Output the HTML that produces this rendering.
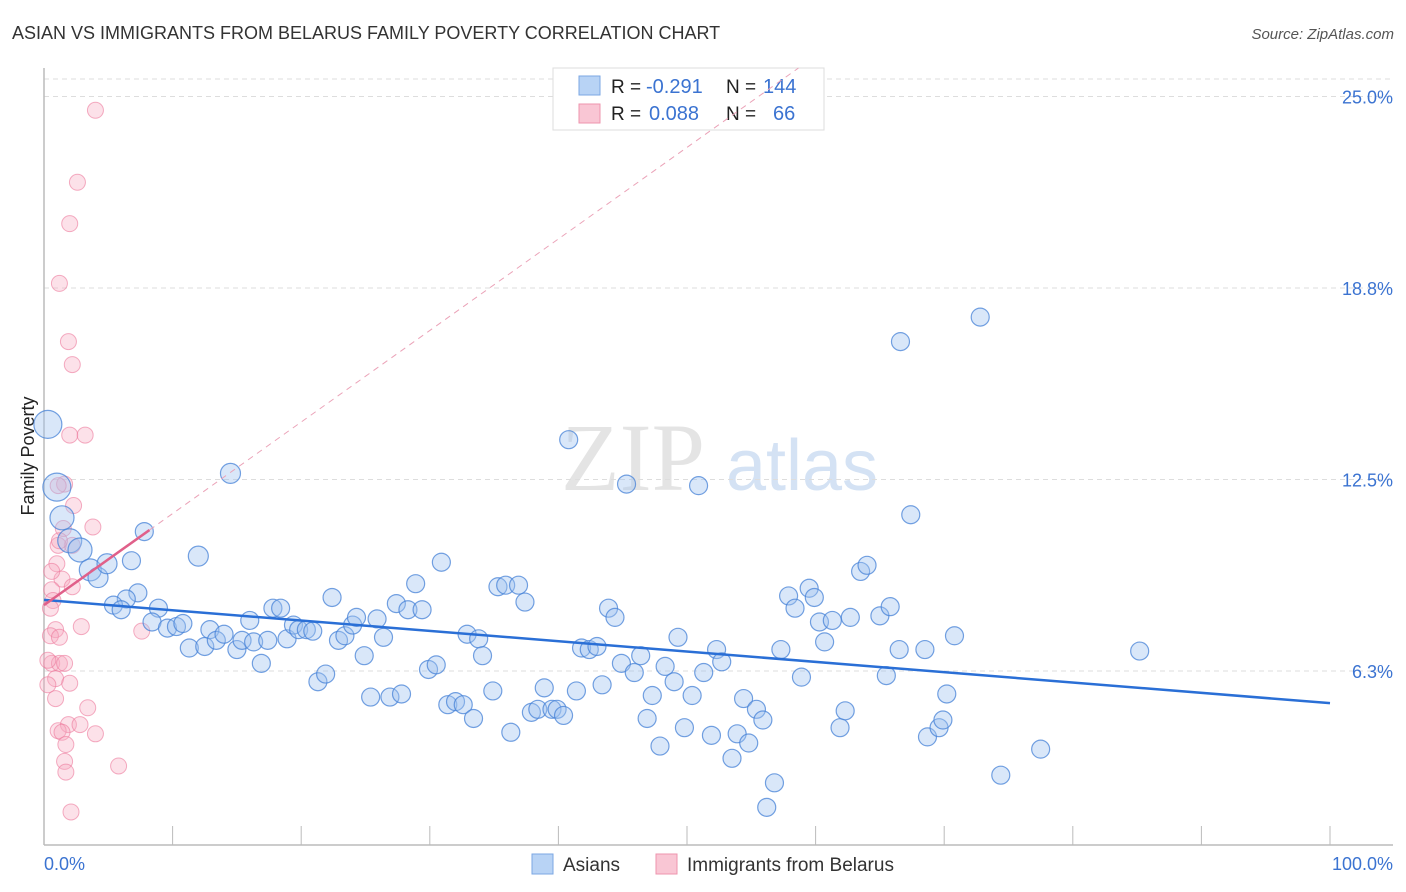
<!DOCTYPE html>
<html><head><meta charset="utf-8">
<style>
body{margin:0;background:#fff;font-family:"Liberation Sans",sans-serif;}
#wrap{position:relative;width:1406px;height:892px;overflow:hidden;}
</style></head>
<body>
<div id="wrap">
<svg id="chart" width="1406" height="892" xmlns="http://www.w3.org/2000/svg">
<text x="12" y="39" font-size="18" fill="#333">ASIAN VS IMMIGRANTS FROM BELARUS FAMILY POVERTY CORRELATION CHART</text>
<text x="1394" y="39" font-size="15" fill="#555" font-style="italic" text-anchor="end">Source: ZipAtlas.com</text>
<text x="34" y="456" font-size="18" fill="#222" text-anchor="middle" transform="rotate(-90 34 456)">Family Poverty</text>
<g>
<text x="633" y="490" font-size="96" font-family="Liberation Serif,serif" fill="#e4e4e4" text-anchor="middle">ZIP</text>
<text x="802" y="490" font-size="72" fill="#d4e2f4" text-anchor="middle">atlas</text>
</g>
<g id="grid"></g>
<g id="axes"></g>
<g>
<rect x="553" y="68" width="271" height="62" fill="#fff" stroke="#ddd"/>
<rect x="579" y="76" width="21" height="19" fill="#b8d3f5" stroke="#7ba7e3"/>
<rect x="579" y="104" width="21" height="19" fill="#f9c6d4" stroke="#ee94ae"/>
<text x="611" y="93" font-size="19" fill="#222">R = </text><text x="646" y="93" font-size="20" fill="#3b73d1">-0.291</text>
<text x="726" y="93" font-size="19" fill="#222">N = </text><text x="763" y="93" font-size="20" fill="#3b73d1">144</text>
<text x="611" y="120" font-size="19" fill="#222">R = </text><text x="649" y="120" font-size="20" fill="#3b73d1">0.088</text>
<text x="726" y="120" font-size="19" fill="#222">N = </text><text x="773" y="120" font-size="20" fill="#3b73d1">66</text>
</g>
<g id="marks"></g>
<g id="trends"></g>
<g>
<rect x="532" y="854" width="21" height="20" fill="#b8d3f5" stroke="#7ba7e3"/>
<text x="563" y="871" font-size="19" fill="#333">Asians</text>
<rect x="656" y="854" width="21" height="20" fill="#f9c6d4" stroke="#ee94ae"/>
<text x="687" y="871" font-size="19" fill="#333">Immigrants from Belarus</text>
</g>
</svg>
</div>
<script>
const xTicks=[0,10,20,30,40,50,60,70,80,90,100];
const yTickVals=[6.25,12.5,18.75,25];
const yTickLabels=["6.3%","12.5%","18.8%","25.0%"];
const asianX=[0.3,1.0,1.4,2.0,2.8,3.6,4.2,4.9,7.3,7.8,12.0,14.5,6.8,6.4,5.4,6.0,8.9,8.4,9.6,10.3,10.8,11.3,12.5,12.9,13.4,14.0,15.0,15.4,16.0,16.3,16.9,17.4,17.8,18.4,18.9,19.4,19.8,20.4,20.9,21.3,21.9,22.4,22.9,23.4,24.0,24.3,24.9,25.4,25.9,26.4,26.9,27.4,27.8,28.3,28.9,29.4,29.9,30.5,30.9,31.4,32.0,32.6,32.9,33.4,33.8,34.1,34.9,35.3,35.9,36.3,36.9,37.4,37.9,38.4,38.9,39.5,39.9,40.4,40.8,41.4,41.8,42.4,43.0,43.4,43.9,44.4,44.9,45.3,45.9,46.4,46.9,47.3,47.9,48.3,49.0,49.3,49.8,50.4,50.9,51.3,51.9,52.3,52.7,53.5,53.9,54.4,54.8,55.4,55.9,56.2,56.8,57.3,57.9,58.4,58.9,59.5,59.9,60.3,60.7,61.3,61.9,62.3,62.7,63.5,64.0,65.0,65.5,65.8,66.5,66.6,67.4,68.7,68.5,69.6,69.9,70.2,70.8,72.8,74.4,77.5,85.2];
const asianY=[14.3,12.25,11.25,10.5,10.2,9.55,9.3,9.75,8.8,10.8,10.0,12.7,9.85,8.6,8.4,8.25,8.3,7.85,7.65,7.7,7.8,7.0,7.05,7.6,7.25,7.45,6.95,7.25,7.9,7.2,6.5,7.25,8.3,8.3,7.3,7.75,7.6,7.6,7.55,5.9,6.15,8.65,7.25,7.4,7.75,8.0,6.75,5.4,7.95,7.35,5.4,8.45,5.5,8.25,9.1,8.25,6.3,6.45,9.8,5.15,5.25,5.15,7.45,4.7,7.3,6.75,5.6,9.0,9.05,4.25,9.05,8.5,4.9,5.0,5.7,5.0,5.0,4.8,13.8,5.6,7.0,6.95,7.05,5.8,8.3,8.0,6.5,12.35,6.2,6.75,4.7,5.45,3.8,6.4,5.9,7.35,4.4,5.45,12.3,6.2,4.15,6.95,6.55,3.4,4.2,5.35,3.9,5.0,4.65,1.8,2.6,6.95,8.7,8.3,6.05,8.95,8.65,7.85,7.2,7.9,4.4,4.95,8.0,9.5,9.7,8.05,6.1,8.35,6.95,17.0,11.35,4.1,6.95,4.4,4.65,5.5,7.4,17.8,2.85,3.7,6.9];
const asianSize=[14,14,12,12,12,11,10,10,9,9,10,10];
const belX=[4.0,2.6,2.0,1.2,1.9,2.2,2.0,3.2,1.6,1.1,2.3,3.8,1.5,2.2,1.1,1.0,1.4,2.2,0.6,0.7,0.5,0.9,2.9,7.6,0.5,1.2,0.6,1.2,1.6,0.9,2.0,0.3,0.9,3.4,1.9,2.8,1.1,1.4,4.0,1.7,1.6,1.7,5.8,2.1,0.3,0.6,1.2];
const belY=[24.55,22.2,20.85,18.9,17.0,16.25,13.95,13.95,12.35,12.3,11.65,10.95,10.9,10.35,10.35,9.75,9.25,9.0,8.9,8.55,8.3,7.6,7.7,7.55,7.4,7.35,6.5,6.5,6.5,6.0,5.85,5.8,5.35,5.05,4.5,4.5,4.3,4.25,4.2,3.85,3.3,2.95,3.15,1.65,6.6,9.5,10.5];
const asianTrend=[8.57,5.2];
const belTrend=[8.4,10.85,8.2];

const NS="http://www.w3.org/2000/svg";
const X0=44,X1=1330,Y0=862.5,PY=30.64;
function sx(v){return X0+(X1-X0)*v/100;}
function sy(v){return Y0-v*PY;}
function mk(tag,attrs,parent){const e=document.createElementNS(NS,tag);for(const k in attrs)e.setAttribute(k,attrs[k]);parent.appendChild(e);return e;}
const grid=document.getElementById('grid'),axes=document.getElementById('axes'),marks=document.getElementById('marks'),trends=document.getElementById('trends');
let gl=mk('line',{x1:X0,x2:1393,y1:79,y2:79,stroke:'#ddd','stroke-dasharray':'5 4'},grid);


yTickVals.forEach((v,i)=>{
  const l=mk('line',{x1:X0,x2:1393,y1:sy(v),y2:sy(v),stroke:'#ddd','stroke-dasharray':'5 4'},grid);
  
  
  const t=mk('text',{x:1393,y:sy(v)+7,'font-size':18,fill:'#3b73d1','text-anchor':'end'},axes);
  t.textContent=yTickLabels[i];
  
  
});
let ax=mk('line',{x1:X0,x2:X0,y1:68,y2:845,stroke:'#bbb','stroke-width':1.5},axes);


let bx=mk('line',{x1:X0,x2:1393,y1:845,y2:845,stroke:'#bbb','stroke-width':1.5},axes);


xTicks.forEach(v=>{
  const t=mk('line',{x1:sx(v),x2:sx(v),y1:826,y2:845,stroke:'#bbb'},axes);
  
  
});
let l0=mk('text',{x:44,y:870,'font-size':18,fill:'#3b73d1'},axes);l0.textContent='0.0%';


let l1=mk('text',{x:1393,y:870,'font-size':18,fill:'#3b73d1','text-anchor':'end'},axes);l1.textContent='100.0%';



belX.forEach((x,i)=>{
  const c=mk('circle',{cx:sx(x),cy:sy(belY[i]),r:8,fill:'rgba(246,170,192,0.35)',stroke:'rgba(236,120,155,0.6)','stroke-width':1},marks);
  
  
});
asianX.forEach((x,i)=>{
  const r=i<asianSize.length?asianSize[i]:9;
  const c=mk('circle',{cx:sx(x),cy:sy(asianY[i]),r:r,fill:'rgba(160,196,240,0.4)',stroke:'rgba(70,130,215,0.75)','stroke-width':1.2},marks);
  
  
});
let at=mk('line',{x1:sx(0),y1:sy(asianTrend[0]),x2:sx(100),y2:sy(asianTrend[1]),stroke:'#2a6fd6','stroke-width':2.5},trends);


const slope=(belTrend[1]-belTrend[0])/belTrend[2];
const xEnd=Math.min(100,(25.93-belTrend[0])/slope);
let bd=mk('line',{x1:sx(belTrend[2]),y1:sy(belTrend[1]),x2:sx(xEnd),y2:sy(belTrend[0]+slope*xEnd),stroke:'#eba3b8','stroke-width':1,'stroke-dasharray':'6 5'},trends);


let bt=mk('line',{x1:sx(0),y1:sy(belTrend[0]),x2:sx(belTrend[2]),y2:sy(belTrend[1]),stroke:'#e0608a','stroke-width':2.5},trends);


</script>
</body></html>
